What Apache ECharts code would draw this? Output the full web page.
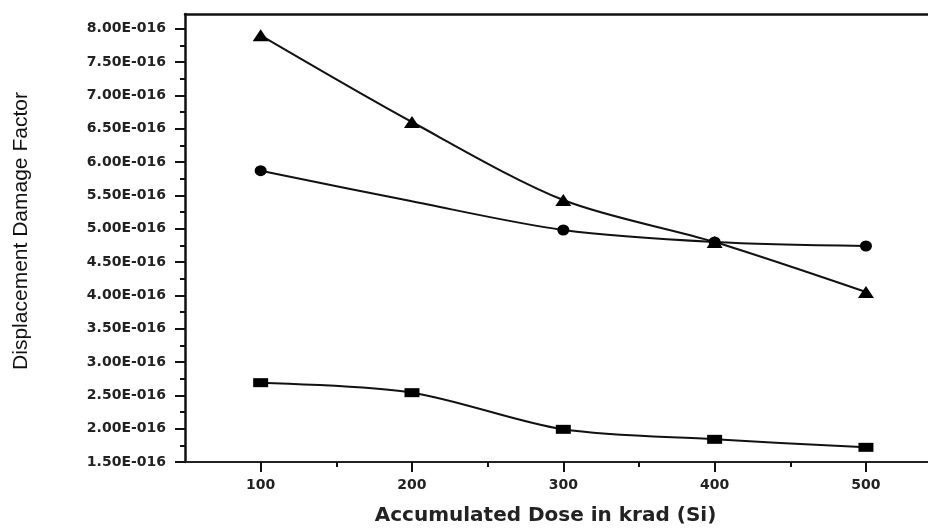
<!DOCTYPE html>
<html><head><meta charset="utf-8">
<script src="https://cdn.jsdelivr.net/npm/echarts@6/dist/echarts.min.js"></script>
<style>html,body{margin:0;padding:0;background:#fff}#c{width:928px;height:531px}</style>
</head><body><div id="c"></div>
<script>
// values in units of 1E-016
const doses = [100, 200, 300, 400, 500];
const triangleValues = [7.90, 6.60, 5.43, 4.80, 4.05];
const circleValues = [5.87, 5.41, 4.98, 4.80, 4.74];
const squareValues = [2.69, 2.54, 1.99, 1.84, 1.72];
const circleHiddenMarker = [false, true, false, false, false];
const yTickValues = [1.5, 2.0, 2.5, 3.0, 3.5, 4.0, 4.5, 5.0, 5.5, 6.0, 6.5, 7.0, 7.5, 8.0];
const yMinorTickValues = [1.75, 2.25, 2.75, 3.25, 3.75, 4.25, 4.75, 5.25, 5.75, 6.25, 6.75, 7.25, 7.75];
const xTickValues = [100, 200, 300, 400, 500];
const xMinorTickValues = [150, 250, 350, 450];
const xTitle = 'Accumulated Dose in krad (Si)';
const yTitle = 'Displacement Damage Factor';

const chart = echarts.init(document.getElementById('c'), null, {renderer: 'canvas'});
const pairs = (vals, hidden) => doses.map((d, i) => hidden && hidden[i] ? {value: [d, vals[i]], symbol: 'none'} : [d, vals[i]]);
const lineStyle = {color: '#111', width: 2};
const X_MIN = 50, X_MAX = 541, Y_MIN = 1.5, Y_MAX = 8.22;

chart.setOption({
  animation: false,
  backgroundColor: '#fff',
  grid: {left: 185, right: 0, top: 14, bottom: 66, containLabel: false},
  xAxis: [
    {
      type: 'value', min: X_MIN, max: X_MAX, position: 'bottom',
      name: xTitle, nameLocation: 'middle', nameGap: 44,
      nameTextStyle: {fontFamily: 'DejaVu Sans', fontWeight: 'bold', fontSize: 20, color: '#222', padding: [0, 22, 0, 0]},
      axisLine: {show: true, lineStyle: {color: '#222', width: 2}},
      axisTick: {show: true, customValues: xTickValues, length: 10, inside: false, lineStyle: {color: '#111', width: 2}},
      axisLabel: {customValues: xTickValues, margin: 16, fontFamily: 'DejaVu Sans', fontWeight: 'bold', fontSize: 14, color: '#222'},
      splitLine: {show: false}
    },
    {
      type: 'value', min: X_MIN, max: X_MAX, position: 'bottom',
      axisLine: {show: false},
      axisTick: {show: true, customValues: xMinorTickValues, length: 5, lineStyle: {color: '#111', width: 2}},
      axisLabel: {show: false},
      splitLine: {show: false}
    },
    {
      type: 'value', min: X_MIN, max: X_MAX, position: 'top',
      axisLine: {show: true, lineStyle: {color: '#111', width: 2.5}},
      axisTick: {show: false}, axisLabel: {show: false}, splitLine: {show: false}
    }
  ],
  yAxis: [
    {
      type: 'value', min: Y_MIN, max: Y_MAX, position: 'left',
      name: yTitle, nameLocation: 'middle', nameGap: 153, nameRotate: 90,
      nameTextStyle: {fontFamily: 'Liberation Sans', fontSize: 21, color: '#111', padding: [0, 0, 0, 14]},
      axisLine: {show: true, lineStyle: {color: '#111', width: 2.5}},
      axisTick: {show: true, customValues: yTickValues, length: 10, lineStyle: {color: '#111', width: 2}},
      axisLabel: {customValues: yTickValues, margin: 19, fontFamily: 'DejaVu Sans', fontWeight: 'bold', fontSize: 14, color: '#222',
        formatter: v => v.toFixed(2) + 'E-016'},
      splitLine: {show: false}
    },
    {
      type: 'value', min: Y_MIN, max: Y_MAX, position: 'left',
      axisLine: {show: false},
      axisTick: {show: true, customValues: yMinorTickValues, length: 5, lineStyle: {color: '#111', width: 2}},
      axisLabel: {show: false}, splitLine: {show: false}
    }
  ],
  series: [
    {type: 'line', name: 'triangle', data: pairs(triangleValues), smooth: 0.3, symbol: 'triangle', symbolSize: [16, 12],
      lineStyle, itemStyle: {color: '#000'}},
    {type: 'line', name: 'circle', data: pairs(circleValues, circleHiddenMarker), smooth: 0.3, symbol: 'circle', symbolSize: [12, 11],
      lineStyle, itemStyle: {color: '#000'}},
    {type: 'line', name: 'square', data: pairs(squareValues), smooth: 0.3, symbol: 'rect', symbolSize: [15, 9],
      lineStyle, itemStyle: {color: '#000'}}
  ]
});
</script></body></html>
